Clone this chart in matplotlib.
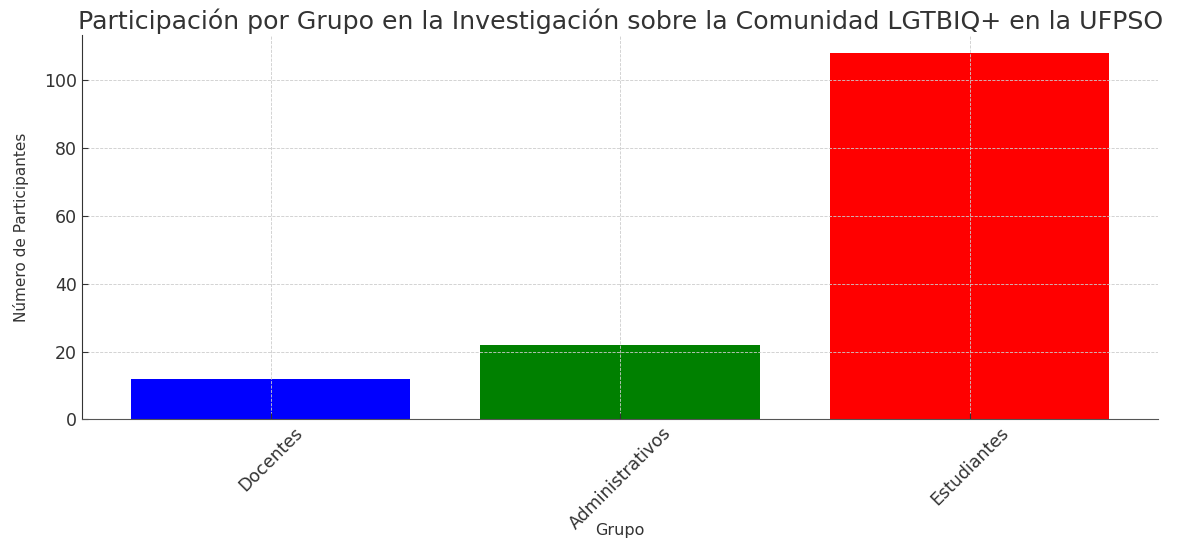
import matplotlib
matplotlib.use("Agg")
import matplotlib.pyplot as plt

# Data
grupos = ["Docentes", "Administrativos", "Estudiantes"]
participantes = [12, 22, 108]
colores = ["blue", "green", "red"]

fig, ax = plt.subplots(figsize=(11.88, 5.39), dpi=100)
ax.bar(grupos, participantes, color=colores, width=0.8)

ax.set_title("Participación por Grupo en la Investigación sobre la Comunidad LGTBIQ+ en la UFPSO",
             fontsize=18.2, color="#333333", pad=4)
ax.set_xlabel("Grupo", fontsize=11.5, color="#333333", va="center")
ax.xaxis.set_label_coords(0.5, -0.29)
ax.set_ylabel("Número de Participantes", fontsize=11, color="#333333", va="center")
ax.yaxis.set_label_coords(-0.057, 0.5)

ax.grid(True, linestyle="--", color="#cccccc", linewidth=0.6)
ax.spines["top"].set_visible(False)
ax.spines["right"].set_visible(False)
ax.spines["left"].set_color("#333333")
ax.spines["bottom"].set_color("#555555")
ax.tick_params(direction="in", length=4, labelsize=12.5, colors="#333333")
plt.xticks(rotation=45)

fig.subplots_adjust(left=0.069, right=0.975, top=0.935, bottom=0.222)
fig.savefig("out.png", dpi=100)
